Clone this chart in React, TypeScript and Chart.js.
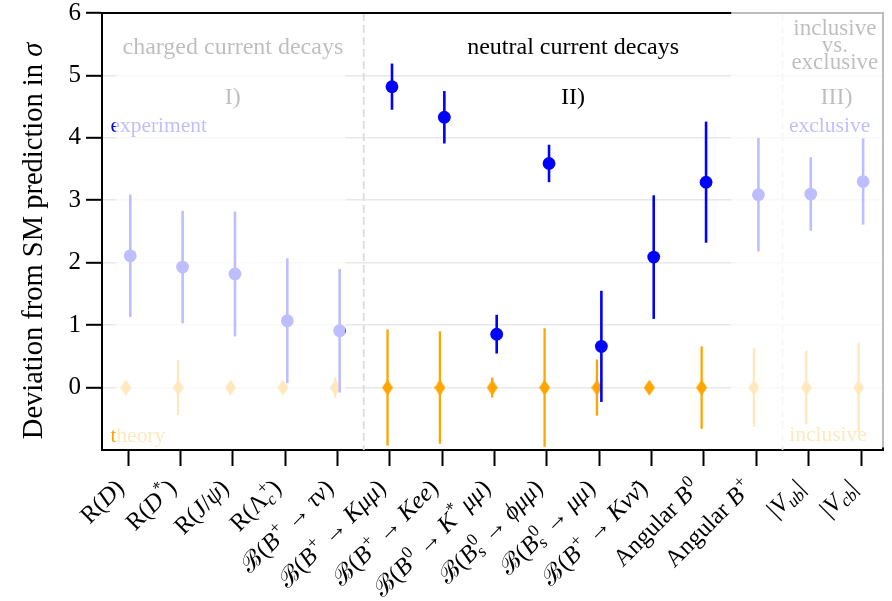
import React, { useEffect, useRef } from "react";
import { Chart, registerables } from "chart.js";

Chart.register(...registerables);

const FONT = '"Liberation Serif", "DejaVu Serif", serif';

// ---------------- data ----------------
const categories = [
  "R($D$)",
  "R($D^{*}$)",
  "R($J/ψ$)",
  "R($Λ_{c}^{+}$)",
  "ℬ($B^{+} → τν$)",
  "ℬ($B^{+} → Kμμ$)",
  "ℬ($B^{+} → Kee$)",
  "ℬ($B^{0} → K^{*}\u2009μμ$)",
  "ℬ($B_{s}^{0} → ϕμμ$)",
  "ℬ($B_{s}^{0} → μμ$)",
  "ℬ($B^{+} → Kνν\u0304$)",
  "Angular $B^{0}$",
  "Angular $B^{+}$",
  "$|V_{ub}|$",
  "$|V_{cb}|$",
];

const experimentValues = [2.11, 1.93, 1.82, 1.07, 0.91, 4.82, 4.33, 0.855, 3.59, 0.66, 2.09, 3.29, 3.09, 3.1, 3.3];
const experimentErrors = [0.98, 0.9, 1.0, 1.0, 0.99, 0.37, 0.42, 0.31, 0.3, 0.89, 0.99, 0.97, 0.91, 0.59, 0.69];
const theoryValues = [0, 0, 0, 0, 0, 0, 0, 0, 0, 0, 0, 0, 0, 0, 0];
const theoryErrors = [0.05, 0.44, 0.05, 0.05, 0.16, 0.93, 0.9, 0.16, 0.95, 0.45, 0.05, 0.66, 0.63, 0.59, 0.72];

const yTickValues = [0, 1, 2, 3, 4, 5, 6];
const sectionBoundaries = [4.5, 12.5];

// ---------------- rich text ----------------
type Piece = { text: string; italic: boolean };
type Atom = { kind: "t"; piece: Piece } | { kind: "s"; sup: Piece[]; sub: Piece[] };

const isItalicChar = (ch: string) => /[A-Za-zα-ωϕ]/.test(ch);

function parseRich(src: string): Atom[] {
  const atoms: Atom[] = [];
  let math = false;
  let lastWasScript = false;
  const chars = Array.from(src);
  let i = 0;
  const mk = (ch: string): Piece => ({ text: ch, italic: math && isItalicChar(ch) });
  while (i < chars.length) {
    const ch = chars[i];
    if (ch === "$") {
      math = !math;
      i++;
      lastWasScript = false;
      continue;
    }
    if (math && (ch === "^" || ch === "_")) {
      i++;
      let content: string[] = [];
      if (chars[i] === "{") {
        i++;
        while (i < chars.length && chars[i] !== "}") {
          content.push(chars[i]);
          i++;
        }
        i++;
      } else {
        content = [chars[i]];
        i++;
      }
      const pieces = content.map(mk);
      const last = atoms[atoms.length - 1];
      if (ch === "^") {
        if (lastWasScript && last && last.kind === "s" && last.sup.length === 0) last.sup = pieces;
        else atoms.push({ kind: "s", sup: pieces, sub: [] });
      } else {
        if (lastWasScript && last && last.kind === "s" && last.sub.length === 0) last.sub = pieces;
        else atoms.push({ kind: "s", sup: [], sub: pieces });
      }
      lastWasScript = true;
      continue;
    }
    if (ch === "\u0304") {
      const last = atoms[atoms.length - 1];
      if (last && last.kind === "t") last.piece.text += ch;
      i++;
      continue;
    }
    atoms.push({ kind: "t", piece: mk(ch) });
    lastWasScript = false;
    i++;
  }
  return atoms;
}

const fontFor = (p: Piece, size: number) => `${p.italic ? "italic " : ""}${size}px ${FONT}`;

function runRich(
  ctx: CanvasRenderingContext2D,
  atoms: Atom[],
  size: number,
  x: number,
  y: number,
  draw: boolean
): number {
  let cx = x;
  const ss = size * 0.7;
  for (const a of atoms) {
    if (a.kind === "t") {
      ctx.font = fontFor(a.piece, size);
      if (draw) ctx.fillText(a.piece.text, cx, y);
      cx += ctx.measureText(a.piece.text).width;
    } else {
      let sx = cx + 1;
      for (const p of a.sup) {
        ctx.font = fontFor(p, ss);
        if (draw) ctx.fillText(p.text, sx, y - size * 0.4);
        sx += ctx.measureText(p.text).width;
      }
      let bx = cx;
      for (const p of a.sub) {
        ctx.font = fontFor(p, ss);
        if (draw) ctx.fillText(p.text, bx, y + size * 0.2);
        bx += ctx.measureText(p.text).width;
      }
      cx = Math.max(sx, bx);
    }
  }
  return cx - x;
}

// ---------------- marker ----------------
function makeDiamond(color: string): HTMLCanvasElement {
  const c = document.createElement("canvas");
  c.width = 11;
  c.height = 16;
  const g = c.getContext("2d")!;
  g.fillStyle = color;
  g.beginPath();
  g.moveTo(5.5, 0);
  g.lineTo(11, 8);
  g.lineTo(5.5, 16);
  g.lineTo(0, 8);
  g.closePath();
  g.fill();
  return c;
}

// ---------------- plugin ----------------
const decorPlugin = {
  id: "decor",
  beforeDatasetsDraw(chart: any) {
    const { ctx, chartArea } = chart;
    const xs = chart.scales.x;
    ctx.save();
    ctx.strokeStyle = "#dcdcdc";
    ctx.lineWidth = 1.8;
    ctx.setLineDash([8, 4]);
    for (const b of sectionBoundaries) {
      const px = xs.getPixelForValue(b);
      ctx.beginPath();
      ctx.moveTo(px, chartArea.top);
      ctx.lineTo(px, chartArea.bottom);
      ctx.stroke();
    }
    ctx.restore();
  },
  beforeDatasetDraw(chart: any, args: any) {
    const ds = chart.data.datasets[args.index];
    const errs: number[] = ds.errors;
    if (!errs) return;
    const { ctx } = chart;
    const xs = chart.scales.x;
    const ys = chart.scales.y;
    ctx.save();
    ctx.strokeStyle = ds.barColor;
    ctx.lineWidth = ds.barWidth;
    ds.data.forEach((pt: any, i: number) => {
      const px = xs.getPixelForValue(pt.x);
      ctx.beginPath();
      ctx.moveTo(px, ys.getPixelForValue(pt.y - errs[i]));
      ctx.lineTo(px, ys.getPixelForValue(pt.y + errs[i]));
      ctx.stroke();
    });
    ctx.restore();
  },
  afterDatasetsDraw(chart: any) {
    const { ctx, chartArea } = chart;
    const xs = chart.scales.x;
    const ys = chart.scales.y;
    const X = (v: number) => xs.getPixelForValue(v);
    const Y = (v: number) => ys.getPixelForValue(v);
    ctx.save();
    ctx.textBaseline = "alphabetic";
    const text = (s: string, x: number, y: number, size: number, color: string, align: CanvasTextAlign) => {
      ctx.font = `${size}px ${FONT}`;
      ctx.fillStyle = color;
      ctx.textAlign = align;
      ctx.fillText(s, x, y);
    };
    text("charged current decays", X(2.0), Y(5.35), 24, "#000", "center");
    text("I)", X(2.0), Y(4.55), 24, "#000", "center");
    text("neutral current decays", X(8.5), Y(5.35), 24, "#000", "center");
    text("II)", X(8.5), Y(4.55), 24, "#000", "center");
    text("inclusive", X(13.5), Y(5.64), 23, "#000", "center");
    text("vs.", X(13.5), Y(5.37), 23, "#000", "center");
    text("exclusive", X(13.5), Y(5.1), 23, "#000", "center");
    text("III)", X(13.53), Y(4.55), 24, "#000", "center");
    text("experiment", X(-0.34), Y(4.09), 21.5, "#0000ff", "left");
    text("theory", X(-0.34), Y(-0.877), 21.5, "#ffa500", "left");
    text("exclusive", X(13.4), Y(4.09), 21.5, "#0000ff", "center");
    text("inclusive", X(13.37), Y(-0.85), 21.5, "#ffa500", "center");

    // top and right spines
    ctx.strokeStyle = "#000";
    ctx.lineWidth = 2;
    ctx.beginPath();
    ctx.moveTo(chartArea.left, chartArea.top);
    ctx.lineTo(chartArea.right, chartArea.top);
    ctx.lineTo(chartArea.right, chartArea.bottom);
    ctx.stroke();

    // fading veils over sections I and III
    ctx.fillStyle = "rgba(255,255,255,0.74)";
    const x0 = X(-0.24), x1 = X(4.15);
    ctx.fillRect(x0, Y(5.98), x1 - x0, Y(-0.96) - Y(5.98));
    const x2 = X(11.52);
    ctx.fillRect(x2, chartArea.top - 3, chartArea.right + 3 - x2, Y(-0.96) - chartArea.top + 3);
    ctx.restore();
  },
  afterDraw(chart: any) {
    const { ctx } = chart;
    const xs = chart.scales.x;
    ctx.save();
    ctx.fillStyle = "#000";
    ctx.textBaseline = "alphabetic";
    ctx.textAlign = "left";
    const size = 24.5;
    categories.forEach((c, i) => {
      const atoms = parseRich(c);
      const w = runRich(ctx, atoms, size, 0, 0, false);
      ctx.save();
      ctx.translate(xs.getPixelForValue(i) - 8, 484);
      ctx.rotate(-Math.PI / 4);
      runRich(ctx, atoms, size, -w, size * 0.3, true);
      ctx.restore();
    });
    // y title
    const title = parseRich("Deviation from SM prediction in $σ$");
    const tw = runRich(ctx, title, 28.5, 0, 0, false);
    ctx.translate(42, 241);
    ctx.rotate(-Math.PI / 2);
    runRich(ctx, title, 28.5, -tw / 2, 0, true);
    ctx.restore();
  },
};

export default function App() {
  const ref = useRef<HTMLCanvasElement | null>(null);
  useEffect(() => {
    if (!ref.current) return;
    const diamond = makeDiamond("#ffa500");
    const chart = new Chart(ref.current, {
      type: "scatter",
      data: {
        datasets: [
          {
            label: "experiment",
            data: experimentValues.map((v, i) => ({ x: i + 0.04, y: v })),
            pointStyle: "circle",
            pointRadius: 6.4,
            backgroundColor: "#0000ff",
            borderColor: "#0000ff",
            borderWidth: 0,
            errors: experimentErrors,
            barColor: "#0000ff",
            barWidth: 2.6,
          } as any,
          {
            label: "theory",
            data: theoryValues.map((v, i) => ({ x: i - 0.045, y: v })),
            pointStyle: diamond,
            pointRadius: 8,
            backgroundColor: "#ffa500",
            borderColor: "#ffa500",
            errors: theoryErrors,
            barColor: "#ffa500",
            barWidth: 2.3,
          } as any,
        ],
      },
      options: {
        responsive: false,
        animation: false,
        events: [],
        layout: { padding: { left: 0, top: 13, right: 4, bottom: 0 } },
        plugins: { legend: { display: false }, tooltip: { enabled: false } },
        scales: {
          x: {
            type: "linear",
            min: -0.5,
            max: 14.42,
            afterBuildTicks: (s: any) => {
              s.ticks = categories.map((_, i) => ({ value: i }));
            },
            afterFit: (s: any) => {
              s.height = 151;
              s.paddingLeft = 0;
              s.paddingRight = 0;
            },
            ticks: { display: false },
            grid: { drawOnChartArea: false, drawTicks: true, tickLength: 16, tickColor: "#000", tickWidth: 2 },
            border: { color: "#000", width: 2 },
          },
          y: {
            min: -1,
            max: 6,
            afterBuildTicks: (s: any) => {
              s.ticks = yTickValues.map((v) => ({ value: v }));
            },
            afterFit: (s: any) => {
              s.width = 102;
              s.paddingTop = 0;
              s.paddingBottom = 0;
            },
            ticks: { font: { family: FONT, size: 25 }, color: "#000", padding: 5 },
            grid: { color: "#e8e8e8", lineWidth: 1.6, tickColor: "#000", tickLength: 16, tickWidth: 2 },
            border: { color: "#000", width: 2 },
          },
        },
      } as any,
      plugins: [decorPlugin as any],
    });
    return () => chart.destroy();
  }, []);
  return (
    <div style={{ position: "fixed", left: 0, top: 0, width: 892, height: 601, background: "#fff" }}>
      <canvas ref={ref} width={892} height={601} style={{ display: "block" }} />
    </div>
  );
}
